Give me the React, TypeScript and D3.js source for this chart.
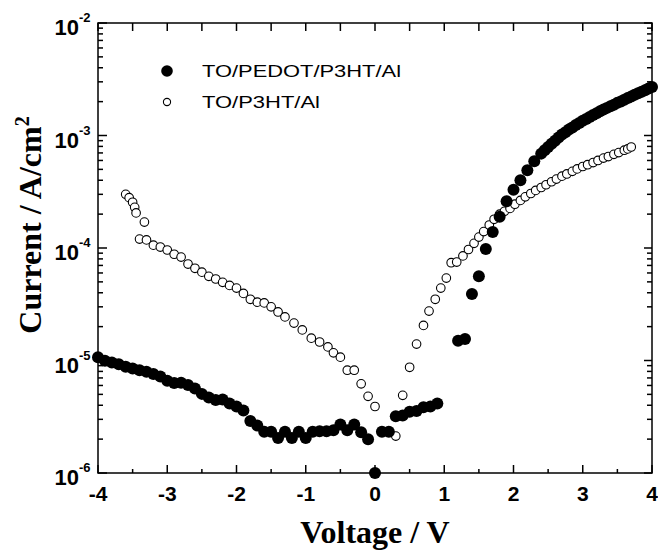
import React from "react";
import * as d3 from "d3";

const xTicks = [-4, -3, -2, -1, 0, 1, 2, 3, 4];
const xTickLabels = ["-4", "-3", "-2", "-1", "0", "1", "2", "3", "4"];
const yDecades = [1e-6, 1e-5, 1e-4, 1e-3, 1e-2];
const yExponents = ["-6", "-5", "-4", "-3", "-2"];
const seriesNames = ["TO/PEDOT/P3HT/Al", "TO/P3HT/Al"];
const xTitle = "Voltage / V";
const yTitle = "Current / A/cm";

// TO/PEDOT/P3HT/Al (filled)
const pedotV = [
  -4.0, -3.9, -3.8, -3.7, -3.6, -3.5, -3.4, -3.3, -3.2, -3.1,
  -3.0, -2.9, -2.8, -2.7, -2.6, -2.5, -2.4, -2.3, -2.2, -2.1,
  -2.0, -1.9, -1.8, -1.7, -1.6, -1.5, -1.4, -1.3, -1.2, -1.1,
  -1.0, -0.9, -0.8, -0.7, -0.6, -0.5, -0.4, -0.3, -0.2, -0.1,
  0.0, 0.1, 0.2, 0.3, 0.4, 0.5, 0.6, 0.7, 0.8, 0.9,
  1.2, 1.3, 1.4, 1.5, 1.6, 1.7, 1.8, 1.9, 2.0,
  2.1, 2.2, 2.3, 2.4, 2.45, 2.5,
  2.55, 2.6, 2.65, 2.7, 2.75, 2.8, 2.85, 2.9, 2.95, 3.0,
  3.05, 3.1, 3.15, 3.2, 3.25, 3.3, 3.35, 3.4, 3.45, 3.5,
  3.55, 3.6, 3.65, 3.7, 3.75, 3.8, 3.85, 3.9, 3.95, 4.0,
];
const pedotI = [
  1.07e-5, 9.95e-6, 9.6e-6, 9.25e-6, 8.8e-6, 8.5e-6, 8.2e-6, 7.95e-6, 7.6e-6, 7.2e-6,
  6.6e-6, 6.3e-6, 6.35e-6, 6.05e-6, 5.65e-6, 5.05e-6, 4.7e-6, 4.45e-6, 4.5e-6, 4.15e-6,
  3.9e-6, 3.6e-6, 2.9e-6, 2.65e-6, 2.33e-6, 2.33e-6, 2.05e-6, 2.33e-6, 2.05e-6, 2.33e-6,
  2.05e-6, 2.33e-6, 2.35e-6, 2.35e-6, 2.4e-6, 2.7e-6, 2.4e-6, 2.7e-6, 2.3e-6, 2.0e-6,
  1.0e-6, 2.33e-6, 2.33e-6, 3.2e-6, 3.25e-6, 3.5e-6, 3.55e-6, 3.85e-6, 3.9e-6, 4.15e-6,
  1.5e-5, 1.55e-5, 3.9e-5, 5.6e-5, 9.8e-5, 1.39e-4, 1.9e-4, 2.6e-4, 3.3e-4,
  4.0e-4, 4.9e-4, 5.9e-4, 6.9e-4, 7.4e-4, 7.9e-4,
  8.45e-4, 9.0e-4, 9.6e-4, 1.02e-3, 1.07e-3, 1.13e-3, 1.18e-3, 1.24e-3, 1.29e-3, 1.35e-3,
  1.4e-3, 1.46e-3, 1.52e-3, 1.58e-3, 1.64e-3, 1.7e-3, 1.76e-3, 1.82e-3, 1.88e-3, 1.95e-3,
  2.01e-3, 2.08e-3, 2.15e-3, 2.22e-3, 2.3e-3, 2.37e-3, 2.45e-3, 2.53e-3, 2.62e-3, 2.7e-3,
];

// TO/P3HT/Al (open)
const p3htV = [
  -3.6, -3.55, -3.5, -3.47, -3.45, -3.33, -3.4, -3.3, -3.2, -3.1,
  -3.0, -2.9, -2.8, -2.7, -2.6, -2.5, -2.4, -2.3, -2.2, -2.1,
  -2.0, -1.9, -1.8, -1.7, -1.6, -1.5, -1.4, -1.3, -1.17, -1.05,
  -0.92, -0.8, -0.68, -0.6, -0.5, -0.4, -0.3, -0.2, -0.1, 0.0,
  0.3, 0.4, 0.5, 0.6, 0.7, 0.78, 0.87, 0.95, 1.03, 1.1,
  1.18, 1.27, 1.35, 1.43, 1.5, 1.57, 1.65, 1.72, 1.8, 1.87,
  1.95, 2.02, 2.1, 2.17, 2.25, 2.32, 2.4, 2.47, 2.55, 2.62,
  2.7, 2.77, 2.85, 2.92, 3.0, 3.07, 3.15, 3.22, 3.3, 3.37,
  3.45, 3.52, 3.6, 3.65, 3.7,
];
const p3htI = [
  3.0e-4, 2.8e-4, 2.55e-4, 2.3e-4, 2.05e-4, 1.7e-4, 1.2e-4, 1.18e-4, 1.06e-4, 1.02e-4,
  9.6e-5, 8.8e-5, 8.3e-5, 7.2e-5, 6.6e-5, 6.1e-5, 5.6e-5, 5.3e-5, 4.95e-5, 4.65e-5,
  4.4e-5, 3.95e-5, 3.5e-5, 3.3e-5, 3.25e-5, 3.0e-5, 2.7e-5, 2.44e-5, 2.15e-5, 1.87e-5,
  1.58e-5, 1.46e-5, 1.32e-5, 1.17e-5, 1.07e-5, 8.2e-6, 8.2e-6, 6.2e-6, 4.8e-6, 3.9e-6,
  2.13e-6, 4.9e-6, 8.7e-6, 1.4e-5, 2.05e-5, 2.75e-5, 3.5e-5, 4.4e-5, 5.4e-5, 7.4e-5,
  7.5e-5, 8.5e-5, 9.7e-5, 1.1e-4, 1.25e-4, 1.4e-4, 1.6e-4, 1.8e-4, 2.0e-4, 2.12e-4,
  2.25e-4, 2.45e-4, 2.65e-4, 2.85e-4, 3.05e-4, 3.25e-4, 3.45e-4, 3.65e-4, 3.88e-4, 4.1e-4,
  4.35e-4, 4.55e-4, 4.8e-4, 5.05e-4, 5.3e-4, 5.5e-4, 5.75e-4, 6.0e-4, 6.3e-4, 6.5e-4,
  6.8e-4, 7.05e-4, 7.4e-4, 7.6e-4, 7.9e-4,
];

const SANS = "'Liberation Sans', Arial, sans-serif";
const SERIF = "'Liberation Serif', 'Times New Roman', serif";

export default function App() {
  const W = 658;
  const H = 550;
  const L = 98, R = 652, T = 23, B = 473;
  const x = d3.scaleLinear().domain([-4, 4]).range([L, R]);
  const y = d3.scaleLog().domain([1e-6, 1e-2]).range([B, T]);

  const xMinor = x.ticks(16).filter((v) => !xTicks.includes(v));
  const yAll = y.ticks();
  const yMinor = yAll.filter(
    (v) => !yDecades.some((d) => Math.abs(d - v) / d < 1e-6)
  );

  const pedot = pedotV.map((v, i) => ({ v, i: pedotI[i] }));
  const p3ht = p3htV.map((v, i) => ({ v, i: p3htI[i] }));

  const majorLen = 8;
  const minorLen = 4;
  const ax = { stroke: "#000", strokeWidth: 1.5 };

  return (
    <svg
      width={W}
      height={H}
      style={{ position: "absolute", left: 0, top: 0, background: "#fff" }}
    >
      <rect x={0} y={0} width={W} height={H} fill="#fff" />
      {/* frame */}
      <rect x={L} y={T} width={R - L} height={B - T} fill="none" {...ax} />

      {/* x ticks bottom & top */}
      {xTicks.map((v) => (
        <g key={"xt" + v}>
          <line x1={x(v)} x2={x(v)} y1={B} y2={B - majorLen} {...ax} />
          <line x1={x(v)} x2={x(v)} y1={T} y2={T + majorLen} {...ax} />
        </g>
      ))}
      {xMinor.map((v) => (
        <g key={"xm" + v}>
          <line x1={x(v)} x2={x(v)} y1={B} y2={B - minorLen} {...ax} />
          <line x1={x(v)} x2={x(v)} y1={T} y2={T + majorLen} {...ax} />
        </g>
      ))}
      {/* y ticks left & right */}
      {yDecades.map((d) => (
        <g key={"yt" + d}>
          <line x1={L} x2={L + 9} y1={y(d)} y2={y(d)} {...ax} />
          <line x1={R} x2={R - 8} y1={y(d)} y2={y(d)} {...ax} />
        </g>
      ))}
      {yMinor.map((d) => (
        <g key={"ym" + d}>
          <line x1={L} x2={L + 5} y1={y(d)} y2={y(d)} {...ax} />
          <line x1={R} x2={R - 5} y1={y(d)} y2={y(d)} {...ax} />
        </g>
      ))}

      {/* x tick labels */}
      {xTicks.map((v, k) => (
        <text
          key={"xl" + v}
          x={x(v)}
          y={B + 28}
          textAnchor="middle"
          fontFamily={SANS}
          fontWeight="bold"
          fontSize={21}
        >
          {xTickLabels[k]}
        </text>
      ))}
      {/* y tick labels */}
      {yDecades.map((d, k) => (
        <g key={"yl" + d}>
          <text
            x={79}
            y={y(d) + 12}
            textAnchor="end"
            fontFamily={SANS}
            fontWeight="bold"
            fontSize={22}
          >
            10
          </text>
          <text
            x={79}
            y={y(d) - 1}
            fontFamily={SANS}
            fontWeight="bold"
            fontSize={13}
          >
            {yExponents[k]}
          </text>
        </g>
      ))}

      {/* axis titles */}
      <text
        x={(L + R) / 2}
        y={543}
        textAnchor="middle"
        fontFamily={SERIF}
        fontWeight="bold"
        fontSize={32}
      >
        {xTitle}
      </text>
      <text
        transform="translate(41,225) rotate(-90)"
        textAnchor="middle"
        fontFamily={SERIF}
        fontWeight="bold"
        fontSize={32}
      >
        {yTitle}
        <tspan dy={-12} fontSize={20}>
          2
        </tspan>
      </text>

      {/* open series */}
      {p3ht.map((p, k) => (
        <circle
          key={"o" + k}
          cx={x(p.v)}
          cy={y(p.i)}
          r={4.3}
          fill="#fff"
          stroke="#000"
          strokeWidth={1.1}
        />
      ))}
      {/* filled series */}
      {pedot.map((p, k) => (
        <circle key={"f" + k} cx={x(p.v)} cy={y(p.i)} r={6} fill="#000" />
      ))}

      {/* legend */}
      <circle cx={167} cy={71} r={5.8} fill="#000" />
      <text
        x={202}
        y={77}
        fontFamily={SANS}
        fontSize={17}
        textLength={199}
        lengthAdjust="spacingAndGlyphs"
      >
        {seriesNames[0]}
      </text>
      <circle cx={167} cy={102} r={3.6} fill="#fff" stroke="#000" strokeWidth={1.1} />
      <text
        x={202}
        y={108}
        fontFamily={SANS}
        fontSize={17}
        textLength={118}
        lengthAdjust="spacingAndGlyphs"
      >
        {seriesNames[1]}
      </text>
    </svg>
  );
}
